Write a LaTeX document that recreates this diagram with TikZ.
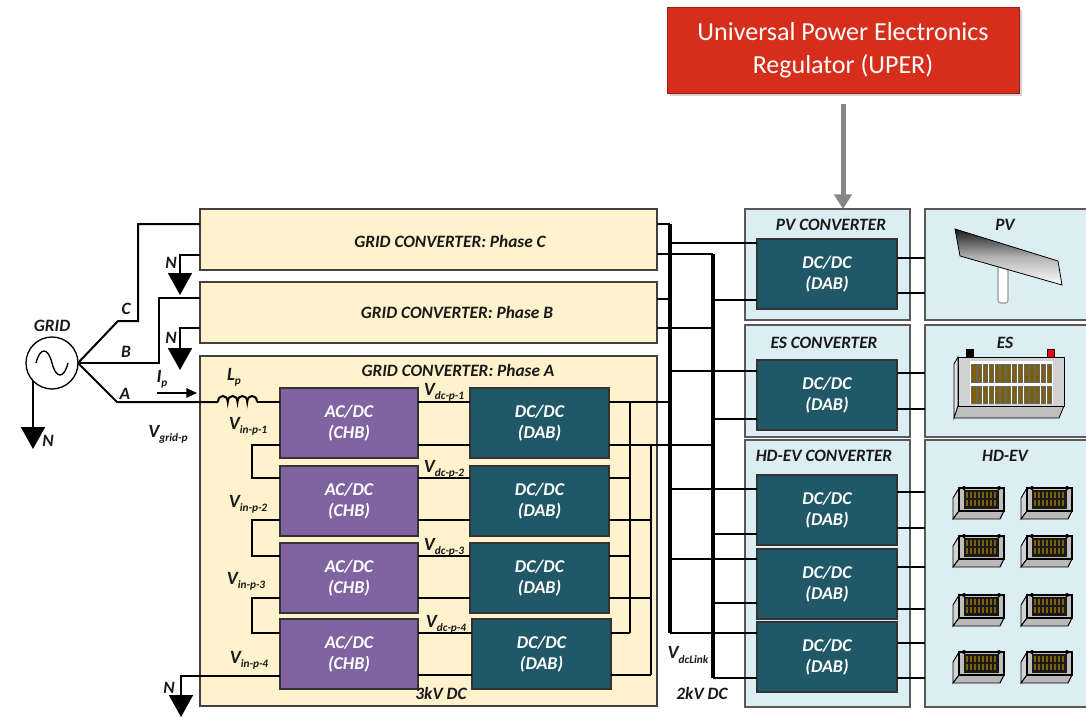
\documentclass[tikz,border=0pt]{standalone}
\usepackage{fontspec}
\setmainfont{Carlito}
\usetikzlibrary{arrows.meta,shadows}
\definecolor{phfill}{HTML}{FFF2CC}
\definecolor{chbfill}{HTML}{8064A2}
\definecolor{dabfill}{HTML}{215867}
\definecolor{panfill}{HTML}{DBEEF4}
\definecolor{uperred}{HTML}{D62E1B}
\definecolor{edge}{HTML}{404040}
\definecolor{pedge}{HTML}{595959}
\definecolor{cellc}{HTML}{7F6000}
\newcommand{\sbs}[1]{\raisebox{-0.45ex}{\fontsize{8.5}{8.5}\selectfont #1}}
\newcommand{\hdbat}[2]{%
\begin{scope}[shift={(#1,#2)}]
 \draw[line width=0.7pt, fill=gray!35] (0,13) -- (6,3) -- (6,26) -- (0,34) -- cycle;
 \draw[line width=0.7pt, fill=gray!55] (6,26) -- (51,26) -- (47,34) -- (0,34) -- cycle;
 \draw[line width=0.8pt, fill=gray!50] (6,3) rectangle (51,26);
 \fill[black!90] (11,5) rectangle (46,24);
 \foreach \i in {0,...,7} {\fill[cellc] (12.5+4*\i,7) rectangle (14.5+4*\i,13);
   \fill[cellc] (12.5+4*\i,15) rectangle (14.5+4*\i,21);}
 \fill (11,3) circle (2); \fill (46,3) circle (2);
\end{scope}}
\begin{document}
\begin{tikzpicture}[x=0.75pt,y=-0.75pt,
  wire/.style={line width=1.5pt},
  bus/.style={line width=3pt},
  lbl/.style={font=\bfseries\itshape\fontsize{13}{15}\selectfont, text=black!90, inner sep=0},
  vlbl/.style={lbl, font=\bfseries\itshape\fontsize{14}{15}\selectfont},
  phase/.style={draw=edge, fill=phfill, line width=1.2pt, anchor=north west, inner sep=0, outer sep=0, minimum width=342.75pt},
  chb/.style={draw=black!80, fill=chbfill, line width=1.2pt, anchor=north west, inner sep=0, outer sep=0,
     minimum width=103.5pt, minimum height=52.5pt, align=center, text=white,
     font=\bfseries\itshape\fontsize{13.5}{16}\selectfont},
  dab/.style={chb, fill=dabfill, minimum width=104.25pt},
  pdab/.style={chb, fill=dabfill, minimum width=105pt},
  panel/.style={draw=pedge, fill=panfill, line width=1.2pt, anchor=north west, inner sep=0, outer sep=0},
  uperbox/.style={draw=uperred!70!black, fill=uperred, line width=0.6pt, anchor=north west, inner sep=0,
     outer sep=0, minimum width=264pt, minimum height=64.5pt, align=center, text=white,
     font=\fontsize{19.5}{25}\selectfont, drop shadow={shadow xshift=2pt, shadow yshift=-2pt, opacity=0.35}},
  garrow/.style={line width=3.75pt, draw=gray!95, -{Triangle[length=11pt,width=13pt]}},
  ntip/.style={wire, -{Triangle[length=16.5pt,width=18pt]}}
]
\useasboundingbox (0,0) rectangle (1086,717);
\clip (0,0) rectangle (1086,717);
\fill[white] (0,0) rectangle (1086,717);

% ---- UPER ----
\node[uperbox] (uper) at (667,7) {Universal Power Electronics\\Regulator (UPER)};
\coordinate (ua) at (843,104);

% ---- phase boxes ----
\node[phase, minimum height=45.75pt] (phC) at (200,209) {};
\node[phase, minimum height=45.75pt] (phB) at (200,282) {};
\node[phase, minimum height=262.5pt] (phA) at (200,356) {};
\node[lbl] (tC) at (450,241) {GRID CONVERTER: Phase C};
\node[lbl] (tB) at (457,312) {GRID CONVERTER: Phase B};
\node[lbl] (tA) at (458,370) {GRID CONVERTER: Phase A};

% ---- CHB / DAB ----
\node[chb] (chb1) at (280,388) {AC/DC\\(CHB)};
\node[chb] (chb2) at (280,466) {AC/DC\\(CHB)};
\node[chb] (chb3) at (280,543) {AC/DC\\(CHB)};
\node[chb] (chb4) at (280,619) {AC/DC\\(CHB)};
\node[dab] (dab1) at (470,388) {DC/DC\\(DAB)};
\node[dab] (dab2) at (470,466) {DC/DC\\(DAB)};
\node[dab] (dab3) at (470,543) {DC/DC\\(DAB)};
\node[dab] (dab4) at (472,619) {DC/DC\\(DAB)};

% ---- right panels ----
\node[panel, minimum width=123.75pt, minimum height=83.25pt] (pvc) at (745,209) {};
\node[panel, minimum width=123.75pt, minimum height=84pt] (esc) at (745,325) {};
\node[panel, minimum width=123.75pt, minimum height=200.25pt] (hdc) at (745,440) {};
\node[panel, minimum width=130pt, minimum height=83.25pt] (pvp) at (925,209) {};
\node[panel, minimum width=130pt, minimum height=84pt] (esp) at (925,325) {};
\node[panel, minimum width=130pt, minimum height=200.25pt] (hdp) at (925,440) {};
\node[lbl] (tpvc) at (831,225) {PV CONVERTER};
\node[lbl] (tesc) at (824,343) {ES CONVERTER};
\node[lbl] (thdc) at (824,456) {HD-EV CONVERTER};
\node[lbl] (tpv) at (1005,225) {PV};
\node[lbl] (tes) at (1005,343) {ES};
\node[lbl] (thd) at (1005,456) {HD-EV};
\node[pdab] (pvd) at (757,239) {DC/DC\\(DAB)};
\node[pdab] (esd) at (757,360) {DC/DC\\(DAB)};
\node[pdab] (hd1) at (757,475) {DC/DC\\(DAB)};
\node[pdab] (hd2) at (757,549) {DC/DC\\(DAB)};
\node[pdab] (hd3) at (757,622) {DC/DC\\(DAB)};

\draw[garrow] (ua) -- (ua |- pvc.north);

% ---- grid source ----
\node[draw, circle, line width=1pt, minimum size=39pt, inner sep=0, outer sep=0, fill=white] (grid) at (52,363) {};
\draw[line width=1pt] (36,363) .. controls (40,347) and (48,347) .. (52,363) .. controls (56,379) and (64,379) .. (68,363);
\node[lbl] (tgrid) at (52,326) {GRID};
\node[lbl] (lC) at (126,309) {C};
\node[lbl] (lB) at (126,352) {B};
\node[lbl] (lA) at (125,394) {A};
\node[vlbl] (lIp) at (162,379) {I\sbs{p}};
\node[vlbl] (lLp) at (234,377) {L\sbs{p}};
\node[vlbl] (lvg) at (168,434) {V\sbs{grid-p}};

\draw[wire] (grid.east) -- (118,321) -- (138,321) -- (138,224) -- (phC.west |- 0,224);
\draw[wire] (grid.east) -- (159,363) -- (159,298) -- (phB.west |- 0,298);
\draw[wire] (grid.east) -- (117,402) -- (218,402);
\coordinate (ipa) at (157,393);
\coordinate (ipb) at (197,393);
\draw[wire, -{Triangle[length=8pt,width=7pt]}] (ipa) -- (ipb);
% inductor
\draw[wire] (218,402) .. controls (218,394) and (227.75,394) .. (227.75,402)
  .. controls (227.75,394) and (237.5,394) .. (237.5,402)
  .. controls (237.5,394) and (247.25,394) .. (247.25,402)
  .. controls (247.25,394) and (257,394) .. (257,402);
\draw[wire] (257,402) -- (chb1.west |- 0,402);

% neutrals
\coordinate (ng) at (33,449);
\coordinate (nC) at (180,295);
\coordinate (nB) at (180,370);
\coordinate (nA) at (181,717);
\draw[ntip] (33,381) -- (ng);
\draw[ntip] (phC.west |- 0,255) -- (180,255) -- (nC);
\draw[ntip] (phB.west |- 0,328) -- (180,328) -- (nB);
\draw[ntip] (chb4.west |- 0,676) -- (181,676) -- (nA);
\node[lbl] (lNg) at (48,441) {N};
\node[lbl] (lNC) at (171,263) {N};
\node[lbl] (lNB) at (171,338) {N};
\node[lbl] (lNA) at (169,688) {N};

% series links
\draw[wire] (chb1.west |- 0,445) -- (252,445) -- (252,478) -- (chb2.west |- 0,478);
\draw[wire] (chb2.west |- 0,520) -- (252,520) -- (252,556) -- (chb3.west |- 0,556);
\draw[wire] (chb3.west |- 0,598) -- (252,598) -- (252,633) -- (chb4.west |- 0,633);
\node[vlbl] (v1) at (248,426) {V\sbs{in-p-1}};
\node[vlbl] (v2) at (248,504) {V\sbs{in-p-2}};
\node[vlbl] (v3) at (246,581) {V\sbs{in-p-3}};
\node[vlbl] (v4) at (249,660) {V\sbs{in-p-4}};

% CHB-DAB links
\draw[wire] (chb1.east |- 0,402) -- (dab1.west |- 0,402);
\draw[wire] (chb1.east |- 0,445) -- (dab1.west |- 0,445);
\draw[wire] (chb2.east |- 0,478) -- (dab2.west |- 0,478);
\draw[wire] (chb2.east |- 0,520) -- (dab2.west |- 0,520);
\draw[wire] (chb3.east |- 0,556) -- (dab3.west |- 0,556);
\draw[wire] (chb3.east |- 0,598) -- (dab3.west |- 0,598);
\draw[wire] (chb4.east |- 0,633) -- (dab4.west |- 0,633);
\draw[wire] (chb4.east |- 0,675) -- (dab4.west |- 0,675);
\node[vlbl] (d1) at (444,392) {V\sbs{dc-p-1}};
\node[vlbl] (d2) at (444,469) {V\sbs{dc-p-2}};
\node[vlbl] (d3) at (444,547) {V\sbs{dc-p-3}};
\node[vlbl] (d4) at (446,624) {V\sbs{dc-p-4}};

% DAB outputs in parallel
\draw[wire] (630,402) -- (630,633);
\draw[wire] (651,445) -- (651,675);
\draw[wire] (dab2.east |- 0,478) -- (630,478);
\draw[wire] (dab2.east |- 0,520) -- (651,520);
\draw[wire] (dab3.east |- 0,556) -- (630,556);
\draw[wire] (dab3.east |- 0,598) -- (651,598);
\draw[wire] (dab4.east |- 0,633) -- (630,633);
\draw[wire] (dab4.east |- 0,675) -- (651,675);

% DC buses
\coordinate (b1t) at (670,224);
\coordinate (b1b) at (670,633);
\coordinate (b2t) at (713,254);
\coordinate (b2b) at (713,678);
\draw[bus] (b1t) -- (b1b);
\draw[bus] (b2t) -- (b2b);
\draw[wire] (phC.east |- 0,224) -- (b1t);
\draw[wire] (phC.east |- 0,254) -- (b2t);
\draw[wire] (phB.east |- 0,299) -- (b1t |- 0,299);
\draw[wire] (phB.east |- 0,328) -- (b2t |- 0,328);
\draw[wire] (dab1.east |- 0,402) -- (b1t |- 0,402);
\draw[wire] (dab1.east |- 0,445) -- (b2t |- 0,445);
\draw[wire] (b1t |- 0,243) -- (pvd.west |- 0,243);
\draw[wire] (b2t |- 0,300) -- (pvd.west |- 0,300);
\draw[wire] (b1t |- 0,371) -- (esd.west |- 0,371);
\draw[wire] (b2t |- 0,419) -- (esd.west |- 0,419);
\draw[wire] (b1t |- 0,489) -- (hd1.west |- 0,489);
\draw[wire] (b2t |- 0,534) -- (hd1.west |- 0,534);
\draw[wire] (b1t |- 0,559) -- (hd2.west |- 0,559);
\draw[wire] (b2t |- 0,603) -- (hd2.west |- 0,603);
\draw[wire] (b1b) -- (hd3.west |- 0,633);
\draw[wire] (b2b) -- (hd3.west |- 0,678);
\node[vlbl] (vdcl) at (688,655) {V\sbs{dcLink}};
\node[lbl] (k2) at (702,693) {2kV DC};
\node[lbl] (k3) at (441,693) {3kV DC};

% converter outputs
\draw[wire] (pvd.east |- 0,258) -- (pvp.west |- 0,258);
\draw[wire] (pvd.east |- 0,293) -- (pvp.west |- 0,293);
\draw[wire] (esd.east |- 0,373) -- (esp.west |- 0,373);
\draw[wire] (esd.east |- 0,409) -- (esp.west |- 0,409);
\draw[wire] (hd1.east |- 0,492) -- (hdp.west |- 0,492);
\draw[wire] (hd1.east |- 0,528) -- (hdp.west |- 0,528);
\draw[wire] (hd2.east |- 0,567) -- (hdp.west |- 0,567);
\draw[wire] (hd2.east |- 0,609) -- (hdp.west |- 0,609);
\draw[wire] (hd3.east |- 0,643) -- (hdp.west |- 0,643);
\draw[wire] (hd3.east |- 0,678) -- (hdp.west |- 0,678);

% PV picture
\draw[rounded corners=2pt, fill=white, draw=gray!80, line width=0.8pt] (998,262) rectangle (1008,303);
\draw[line width=0.6pt, top color=black!90, bottom color=white, middle color=gray!60]
  (955,229) -- (1058,261) -- (1062,285) -- (960,256) -- cycle;

% ES battery
\draw[line width=0.6pt, fill=gray!25] (954,364) -- (958,357) -- (958,406) -- (954,418) -- cycle;
\draw[line width=0.6pt, fill=gray!50] (958,406) -- (1064,406) -- (1059,418) -- (954,418) -- cycle;
\draw[line width=0.6pt, fill=gray!35] (958,357) rectangle (1064,406);
\fill[white] (970,361) rectangle (1053,404);
\foreach \i in {0,...,13} {
  \filldraw[fill=cellc, draw=black!60, line width=0.3pt] (971.5+5.8*\i,364) rectangle (975.8+5.8*\i,382);
  \filldraw[fill=cellc, draw=black!60, line width=0.3pt] (971.5+5.8*\i,386) rectangle (975.8+5.8*\i,403);
}
\fill[black] (966,349) rectangle (974,357);
\filldraw[fill=red, draw=black, line width=0.4pt] (1047,349) rectangle (1054,357);

% HD-EV batteries
\hdbat{953}{485}\hdbat{1021}{485}
\hdbat{953}{533}\hdbat{1021}{533}
\hdbat{953}{592}\hdbat{1021}{592}
\hdbat{953}{649}\hdbat{1021}{649}
\end{tikzpicture}
\end{document}
